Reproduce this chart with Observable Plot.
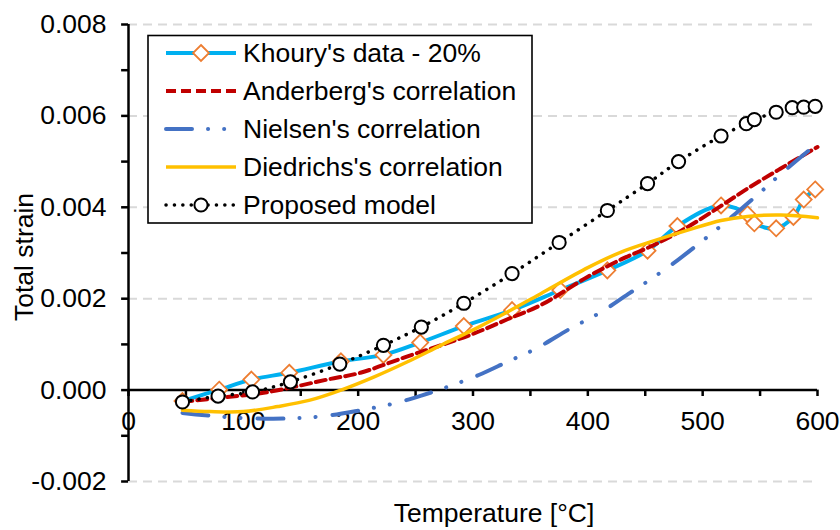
<!DOCTYPE html>
<html><head><meta charset="utf-8">
<script src="https://cdn.jsdelivr.net/npm/d3@7"></script>
<script src="https://cdn.jsdelivr.net/npm/@observablehq/plot@0.6"></script>
<style>body{margin:0;background:#fff} #chart{width:840px;height:530px}</style>
</head><body><div id="chart"></div>
<script>
// ---- data ----
const seriesNames = ["Khoury's data - 20%", "Anderberg's correlation", "Nielsen's correlation", "Diedrichs's correlation", "Proposed model"];

const khouryT = [47, 79, 107, 140, 185, 222, 254, 292, 334, 376, 417, 452, 478, 516, 539, 545, 564, 579, 588, 598];
const khouryV = [-0.00024, 0.00001, 0.00023, 0.00038, 0.00063, 0.00077, 0.00104, 0.0014, 0.00175, 0.00219, 0.00262, 0.00305, 0.00359, 0.00404, 0.00385, 0.00365, 0.00354, 0.00379, 0.00417, 0.00439];

const anderbergT = [47, 86, 115, 144, 173, 202, 243, 272, 301, 330, 359, 400, 429, 458, 487, 516, 539, 568, 600];
const anderbergV = [-0.00026, -0.00015, -0.00007, 0.00007, 0.00023, 0.00038, 0.00074, 0.00098, 0.00124, 0.00155, 0.00186, 0.00248, 0.00286, 0.00318, 0.00357, 0.00403, 0.00441, 0.00485, 0.00532];

const nielsenT = [47, 80, 110, 140, 170, 200, 230, 255, 280, 305, 330, 355, 385, 411, 435, 455, 478, 498, 520, 549, 569, 600];
const nielsenV = [-0.0005, -0.00058, -0.00062, -0.00062, -0.00057, -0.00045, -0.0003, -0.00012, 0.00009, 0.00033, 0.00062, 0.00091, 0.00135, 0.0017, 0.0021, 0.00243, 0.00284, 0.00323, 0.00368, 0.0043, 0.00475, 0.0054];

const diedrichsT = [47, 71, 100, 130, 158, 185, 214, 243, 272, 301, 330, 359, 400, 429, 458, 487, 516, 539, 568, 600];
const diedrichsV = [-0.00044, -0.00047, -0.00047, -0.00036, -0.00022, 0.0, 0.00029, 0.00062, 0.00098, 0.00133, 0.00171, 0.00211, 0.00268, 0.00302, 0.00327, 0.0035, 0.00371, 0.0038, 0.00383, 0.00377];

const proposedT = [47, 78, 108, 141, 184, 222, 255, 292, 334, 375, 417, 452, 479, 516, 538, 545, 564, 578, 588, 598];
const proposedV = [-0.00026, -0.00013, -0.00004, 0.00018, 0.00057, 0.00098, 0.00138, 0.0019, 0.00255, 0.00323, 0.00393, 0.00452, 0.005, 0.00556, 0.00583, 0.00592, 0.00608, 0.00618, 0.00619, 0.00621];

const xTicks = [0, 100, 200, 300, 400, 500, 600];
const xTickLabels = ["0", "100", "200", "300", "400", "500", "600"];
const xMinorTicks = [0, 50, 100, 150, 200, 250, 300, 350, 400, 450, 500, 550, 600];
const yTicks = [-0.002, 0, 0.002, 0.004, 0.006, 0.008];
const yTickLabels = ["-0.002", "0.000", "0.002", "0.004", "0.006", "0.008"];
const yMinorTicks = [-0.002, -0.001, 0, 0.001, 0.002, 0.003, 0.004, 0.005, 0.006, 0.007, 0.008];
const gridY = [-0.002, 0.002, 0.004, 0.006, 0.008];
const xLabel = "Temperature [°C]";
const yLabel = "Total strain";

// ---- build ----
const rows = (T, V) => T.map((t, i) => ({t, v: V[i]}));
const khoury = rows(khouryT, khouryV);
const anderberg = rows(anderbergT, anderbergV);
const nielsen = rows(nielsenT, nielsenV);
const diedrichs = rows(diedrichsT, diedrichsV);
const proposed = rows(proposedT, proposedV);

const C = {khouryLine: "#00B0F0", khouryMark: "#ED7D31", anderberg: "#C00000", nielsen: "#4472C4", diedrichs: "#FFC000", proposed: "#000000"};
const styles = {
  khoury: {stroke: C.khouryLine, strokeWidth: 4},
  anderberg: {stroke: C.anderberg, strokeWidth: 4, strokeDasharray: "10 5"},
  nielsen: {stroke: C.nielsen, strokeWidth: 4, strokeDasharray: "26 16 0.1 16 0.1 17", strokeLinecap: "round"},
  diedrichs: {stroke: C.diedrichs, strokeWidth: 3.5},
  proposed: {stroke: C.proposed, strokeWidth: 3.5, strokeDasharray: "0.1 8.3", strokeLinecap: "round"}
};
const diamondR = 7.2, circleR = 6.6;
const xTickLen = 0.00014, yTickLen = 6;
const FONT = "'Liberation Sans', Arial, sans-serif";
const FS = 26.5;

const chart = Plot.plot({
  width: 840, height: 530,
  marginLeft: 128, marginRight: 23, marginTop: 24, marginBottom: 49,
  x: {domain: [0, 600], axis: null},
  y: {domain: [-0.002, 0.008], axis: null},
  style: {fontFamily: FONT, fontSize: FS + "px", background: "white", overflow: "visible", color: "black"},
  marks: [
    Plot.ruleY(gridY, {stroke: "#D9D9D9", strokeWidth: 2, strokeDasharray: "9 6"}),
    Plot.ruleX([0], {stroke: "black", strokeWidth: 2.5}),
    Plot.ruleY([0], {stroke: "black", strokeWidth: 2.5}),
    Plot.ruleY(yMinorTicks, {y: d => d, x1: 0, x2: -yTickLen, stroke: "black", strokeWidth: 2.5}),
    Plot.ruleX(xMinorTicks, {x: d => d, y1: 0, y2: -xTickLen, stroke: "black", strokeWidth: 2.5}),
    Plot.text(yTicks, {y: d => d, frameAnchor: "left", dx: -22, textAnchor: "end", text: (d, i) => yTickLabels[i], fill: "black"}),
    Plot.text(xTicks, {x: d => d, y: () => 0, dy: 31, text: (d, i) => xTickLabels[i], fill: "black"}),
    Plot.line(khoury, {x: "t", y: "v", curve: "catmull-rom", ...styles.khoury}),
    Plot.dot(khoury, {x: "t", y: "v", symbol: "diamond2", r: diamondR, stroke: C.khouryMark, fill: "white", strokeWidth: 1.8}),
    Plot.line(anderberg, {x: "t", y: "v", curve: "catmull-rom", ...styles.anderberg}),
    Plot.line(nielsen, {x: "t", y: "v", curve: "catmull-rom", ...styles.nielsen}),
    Plot.line(diedrichs, {x: "t", y: "v", curve: "catmull-rom", ...styles.diedrichs}),
    Plot.line(proposed, {x: "t", y: "v", curve: "catmull-rom", ...styles.proposed}),
    Plot.dot(proposed, {x: "t", y: "v", r: circleR, stroke: "black", fill: "white", strokeWidth: 2})
  ]
});

const svg = d3.select(chart);
// axis titles
svg.append("text").attr("x", 494).attr("y", 513).attr("text-anchor", "middle").attr("dominant-baseline", "central")
  .attr("font-family", FONT).attr("font-size", FS).attr("fill", "black").text(xLabel);
svg.append("text").attr("transform", "translate(24,257) rotate(-90)").attr("text-anchor", "middle").attr("dominant-baseline", "central")
  .attr("font-family", FONT).attr("font-size", FS).attr("fill", "black").text(yLabel);

// legend
const lg = svg.append("g");
lg.append("rect").attr("x", 148).attr("y", 35.5).attr("width", 384).attr("height", 187.5)
  .attr("fill", "white").attr("stroke", "black").attr("stroke-width", 1.6);
const keys = ["khoury", "anderberg", "nielsen", "diedrichs", "proposed"];
keys.forEach((k, i) => {
  const y = 53 + i * 38;
  const s = styles[k];
  const ln = lg.append("line").attr("x1", 166).attr("x2", 236).attr("y1", y).attr("y2", y)
    .attr("stroke", s.stroke).attr("stroke-width", s.strokeWidth);
  if (s.strokeDasharray) ln.attr("stroke-dasharray", s.strokeDasharray);
  if (s.strokeLinecap) ln.attr("stroke-linecap", s.strokeLinecap);
  if (k === "khoury") {
    lg.append("path").attr("d", d3.symbol(d3.symbolDiamond2, Math.PI * diamondR * diamondR)())
      .attr("transform", `translate(201,${y})`).attr("fill", "white").attr("stroke", C.khouryMark).attr("stroke-width", 1.8);
  }
  if (k === "proposed") {
    lg.append("circle").attr("cx", 201).attr("cy", y).attr("r", circleR).attr("fill", "white").attr("stroke", "black").attr("stroke-width", 2);
  }
  lg.append("text").attr("x", 243).attr("y", y).attr("text-anchor", "start").attr("dominant-baseline", "central")
    .attr("font-family", FONT).attr("font-size", FS).attr("fill", "black").text(seriesNames[i]);
});

document.getElementById("chart").appendChild(chart);
</script>
</body></html>
